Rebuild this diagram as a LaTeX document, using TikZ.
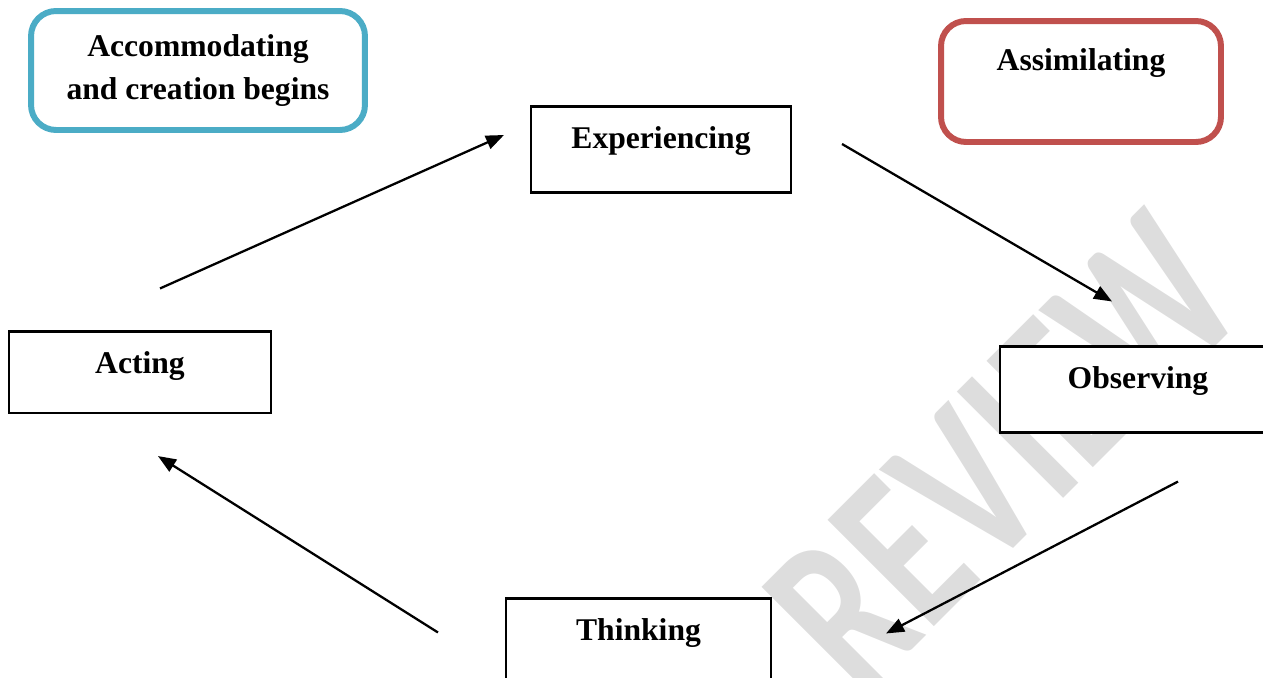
\documentclass[tikz,border=0pt]{standalone}
\usepackage{fontspec}
\setmainfont{Liberation Serif}
\newfontfamily\markfont{Carlito}
\usepackage{graphicx}
\usepackage{tikz}
\usetikzlibrary{calc,arrows.meta}
\definecolor{accomblue}{HTML}{4BACC6}
\definecolor{assimred}{HTML}{C0504D}
\definecolor{markgray}{HTML}{DDDDDD}

\begin{document}
\begin{tikzpicture}[
    x=0.02cm, y=-0.02cm,
    every node/.style={font=\fontsize{18}{24.5}\selectfont\bfseries},
    stage/.style={draw, fill=white, line width=1.2pt, inner sep=0pt,
      text height=0.84cm, text depth=0.88cm, anchor=base},
    phase/.style={draw, fill=white, line width=3.4pt, rounded corners=0.5cm,
      inner sep=0pt, align=center},
    flow/.style={line width=1.3pt, -{Triangle[length=0.36cm,width=0.28cm]}}
  ]
  \useasboundingbox (0,0) rectangle (1263,677);
  \clip (0,0) rectangle (1263,677);
  \node[font=\markfont\bfseries\fontsize{132}{132}\selectfont, text=markgray, rotate=45] (mark) at (1003,452) {\scalebox{0.72}[1]{REVIEW}};

  \node[phase, draw=accomblue, minimum width=6.68cm, minimum height=2.38cm] (accom) at (198,70.5) {Accommodating\\and creation begins};
  \node[phase, draw=assimred, minimum width=5.6cm, text height=0.99cm, text depth=1.43cm, anchor=base] (assim) at (1081,70.5) {Assimilating};

  \node[stage, minimum width=5.2cm] (expe) at (661,148.5) {Experiencing};
  \node[stage, minimum width=5.52cm] (obs) at (1138,388.5) {Observing};
  \node[stage, minimum width=5.3cm] (think) at (638.5,640.5) {Thinking};
  \node[stage, minimum width=5.24cm, text depth=0.79cm] (act) at (140,373.5) {Acting};

  \draw[flow] ($(act.north)+(20,-42)$) -- ($(expe.west)+(-26,-14.5)$);
  \draw[flow] ($(expe.east)+(50,-5.5)$) -- ($(obs.north)+(-26,-44)$);
  \draw[flow] ($(obs.south)+(40,48)$) -- ($(think.north east)+(114,36)$);
  \draw[flow] ($(think.north west)+(-67,35)$) -- ($(act.south)+(18,42)$);
\end{tikzpicture}
\end{document}
